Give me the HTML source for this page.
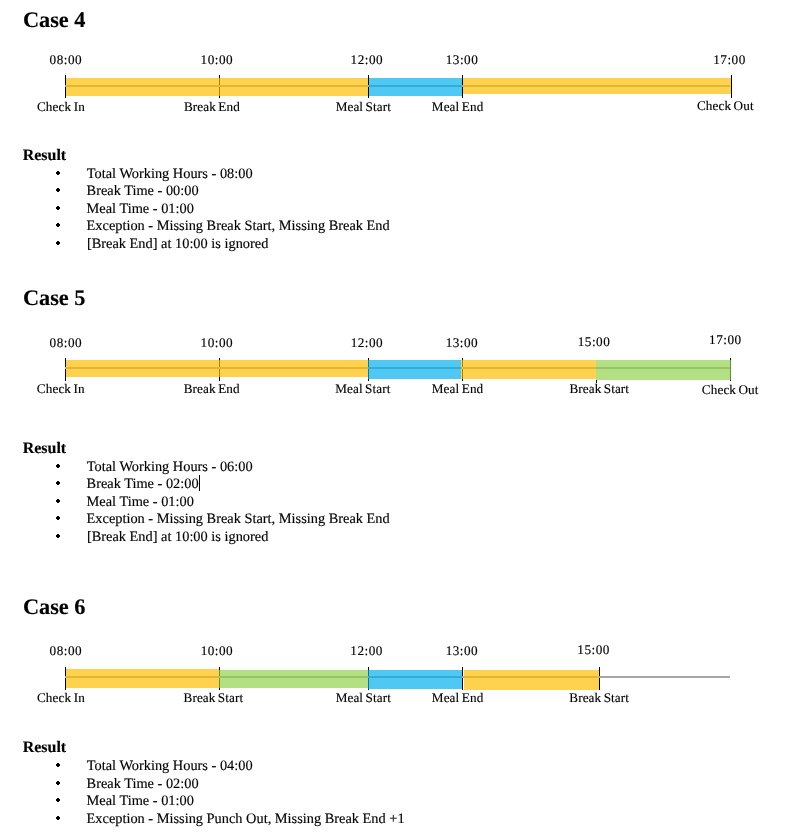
<!DOCTYPE html>
<html lang="en"><head><meta charset="utf-8"><title>Attendance Cases</title>
<style>
html,body{margin:0;padding:0;background:#fff;}
body{position:relative;width:790px;height:834px;overflow:hidden;color:#000;
  font-family:"Liberation Serif","Times New Roman",serif;text-rendering:geometricPrecision;}
h2,h3,ul,li{margin:0;padding:0;list-style:none;font-weight:normal;}
.t{position:absolute;white-space:nowrap;filter:grayscale(1);-webkit-text-stroke:0.15px #000;}
.h{font-size:22.3px;line-height:22.3px;font-weight:bold;}
.res{font-size:15.96px;line-height:15.96px;font-weight:bold;}
.item{font-size:14.37px;line-height:14.37px;}
.time{font-size:13.2px;line-height:13.2px;letter-spacing:0.5px;}
.evt{font-size:13.17px;line-height:13.17px;word-spacing:-1px;}
.axis,.tick,.seg,.dot{position:absolute;display:block;}
.tick{background:#000;z-index:1;}
.axis{background:#a6a6a6;z-index:2;}
.seg{z-index:3;}
.seg.work{background:rgba(254,190,0,0.69);}
.seg.meal{background:rgba(0,175,239,0.69);}
.seg.brk{background:rgba(146,210,77,0.69);}
.dot{width:4px;height:4px;
  background:linear-gradient(#000,#000) 1px 0/2px 4px no-repeat,linear-gradient(#000,#000) 0 1px/4px 2px no-repeat;}
.caret{position:absolute;display:block;background:#000;z-index:5;}
</style></head>
<body>
<section class="case">
  <h2 class="t h" style="left:22.89px;top:9px">Case 4</h2>
  <div class="timeline">
    <div class="axis" style="left:65px;top:85px;width:665px;height:2px"></div>
    <div class="tick" style="left:65px;top:75px;width:1px;height:23px"></div>
    <div class="tick" style="left:219px;top:75px;width:1px;height:23px"></div>
    <div class="tick" style="left:368px;top:75px;width:1px;height:23px"></div>
    <div class="tick" style="left:462px;top:75px;width:1px;height:23px"></div>
    <div class="tick" style="left:731px;top:75px;width:1px;height:23px"></div>
    <div class="seg work" style="left:66px;top:78px;width:153px;height:18px"></div>
    <div class="seg work" style="left:219px;top:78px;width:149px;height:18px"></div>
    <div class="seg meal" style="left:369px;top:78px;width:93px;height:18px"></div>
    <div class="seg work" style="left:463px;top:78px;width:268px;height:16px"></div>
    <span class="t time" style="left:49.57px;top:53px">08:00</span>
    <span class="t time" style="left:200.54px;top:53px">10:00</span>
    <span class="t time" style="left:350.54px;top:53px">12:00</span>
    <span class="t time" style="left:445.74px;top:53px">13:00</span>
    <span class="t time" style="left:713.24px;top:53px">17:00</span>
    <span class="t evt" style="left:36.88px;top:100px;letter-spacing:0.143px">Check In</span>
    <span class="t evt" style="left:183.91px;top:100px;letter-spacing:0.125px">Break End</span>
    <span class="t evt" style="left:335.63px;top:100px;letter-spacing:0.111px">Meal Start</span>
    <span class="t evt" style="left:431.8px;top:100px;letter-spacing:0.143px">Meal End</span>
    <span class="t evt" style="left:696.92px;top:99px;letter-spacing:0.125px">Check Out</span>
  </div>
  <h3 class="t res" style="left:22.72px;top:148px">Result</h3>
  <ul>
    <li><i class="dot" style="left:56px;top:171px"></i><span class="t item" style="left:86.75px;top:167px">Total Working Hours - 08:00</span></li>
    <li><i class="dot" style="left:56px;top:188px"></i><span class="t item" style="left:86.57px;top:184px">Break Time - 00:00</span></li>
    <li><i class="dot" style="left:56px;top:206px"></i><span class="t item" style="left:86.57px;top:202px">Meal Time - 01:00</span></li>
    <li><i class="dot" style="left:56px;top:223px"></i><span class="t item" style="left:86.57px;top:219px">Exception - Missing Break Start, Missing Break End</span></li>
    <li><i class="dot" style="left:56px;top:241px"></i><span class="t item" style="left:86.92px;top:237px">[Break End] at 10:00 is ignored</span></li>
  </ul>
</section>
<section class="case">
  <h2 class="t h" style="left:22.89px;top:287px">Case 5</h2>
  <div class="timeline">
    <div class="axis" style="left:65px;top:367px;width:665px;height:2px"></div>
    <div class="tick" style="left:65px;top:358px;width:1px;height:23px"></div>
    <div class="tick" style="left:219px;top:358px;width:1px;height:23px"></div>
    <div class="tick" style="left:368px;top:358px;width:1px;height:23px"></div>
    <div class="tick" style="left:462px;top:358px;width:1px;height:23px"></div>
    <div class="tick" style="left:596px;top:380px;width:1px;height:3px"></div>
    <div class="tick" style="left:730px;top:358px;width:1px;height:23px"></div>
    <div class="seg work" style="left:66px;top:360px;width:153px;height:17px"></div>
    <div class="seg work" style="left:219px;top:360px;width:149px;height:17px"></div>
    <div class="seg meal" style="left:368px;top:360px;width:93px;height:19px"></div>
    <div class="seg work" style="left:461px;top:360px;width:135px;height:19px"></div>
    <div class="seg brk" style="left:596px;top:360px;width:135px;height:20px"></div>
    <span class="t time" style="left:49.57px;top:336px">08:00</span>
    <span class="t time" style="left:200.54px;top:336px">10:00</span>
    <span class="t time" style="left:350.64px;top:336px">12:00</span>
    <span class="t time" style="left:445.64px;top:336px">13:00</span>
    <span class="t time" style="left:577.74px;top:335px">15:00</span>
    <span class="t time" style="left:709.04px;top:333px">17:00</span>
    <span class="t evt" style="left:36.78px;top:382px;letter-spacing:0.143px">Check In</span>
    <span class="t evt" style="left:183.71px;top:382px;letter-spacing:0.125px">Break End</span>
    <span class="t evt" style="left:335.23px;top:382px;letter-spacing:0.111px">Meal Start</span>
    <span class="t evt" style="left:431.7px;top:382px;letter-spacing:0.143px">Meal End</span>
    <span class="t evt" style="left:569.44px;top:382px;letter-spacing:0.100px">Break Start</span>
    <span class="t evt" style="left:701.82px;top:383px;letter-spacing:0.125px">Check Out</span>
  </div>
  <h3 class="t res" style="left:22.72px;top:441px">Result</h3>
  <ul>
    <li><i class="dot" style="left:56px;top:464px"></i><span class="t item" style="left:86.75px;top:460px">Total Working Hours - 06:00</span></li>
    <li><i class="dot" style="left:56px;top:481px"></i><span class="t item" style="left:86.57px;top:477px">Break Time - 02:00</span><i class="caret" style="left:199px;top:475px;width:1px;height:16px"></i></li>
    <li><i class="dot" style="left:56px;top:499px"></i><span class="t item" style="left:86.57px;top:495px">Meal Time - 01:00</span></li>
    <li><i class="dot" style="left:56px;top:516px"></i><span class="t item" style="left:86.57px;top:512px">Exception - Missing Break Start, Missing Break End</span></li>
    <li><i class="dot" style="left:56px;top:534px"></i><span class="t item" style="left:86.92px;top:530px">[Break End] at 10:00 is ignored</span></li>
  </ul>
</section>
<section class="case">
  <h2 class="t h" style="left:22.89px;top:596px">Case 6</h2>
  <div class="timeline">
    <div class="axis" style="left:65px;top:676px;width:665px;height:2px"></div>
    <div class="tick" style="left:65px;top:667px;width:1px;height:23px"></div>
    <div class="tick" style="left:219px;top:667px;width:1px;height:23px"></div>
    <div class="tick" style="left:368px;top:667px;width:1px;height:23px"></div>
    <div class="tick" style="left:462px;top:667px;width:1px;height:23px"></div>
    <div class="tick" style="left:599px;top:667px;width:1px;height:23px"></div>
    <div class="seg work" style="left:66px;top:669px;width:153px;height:19px"></div>
    <div class="seg brk" style="left:219px;top:670px;width:149px;height:18px"></div>
    <div class="seg meal" style="left:368px;top:670px;width:94px;height:19px"></div>
    <div class="seg work" style="left:464px;top:670px;width:135px;height:20px"></div>
    <span class="t time" style="left:49.57px;top:644px">08:00</span>
    <span class="t time" style="left:200.64px;top:644px">10:00</span>
    <span class="t time" style="left:350.34px;top:644px">12:00</span>
    <span class="t time" style="left:445.64px;top:644px">13:00</span>
    <span class="t time" style="left:577.34px;top:643px">15:00</span>
    <span class="t evt" style="left:36.88px;top:691px;letter-spacing:0.143px">Check In</span>
    <span class="t evt" style="left:183.54px;top:691px;letter-spacing:0.100px">Break Start</span>
    <span class="t evt" style="left:335.63px;top:691px;letter-spacing:0.111px">Meal Start</span>
    <span class="t evt" style="left:431.8px;top:691px;letter-spacing:0.143px">Meal End</span>
    <span class="t evt" style="left:569.34px;top:691px;letter-spacing:0.100px">Break Start</span>
  </div>
  <h3 class="t res" style="left:22.72px;top:740px">Result</h3>
  <ul>
    <li><i class="dot" style="left:56px;top:763px"></i><span class="t item" style="left:86.75px;top:759px">Total Working Hours - 04:00</span></li>
    <li><i class="dot" style="left:56px;top:781px"></i><span class="t item" style="left:86.57px;top:777px">Break Time - 02:00</span></li>
    <li><i class="dot" style="left:56px;top:798px"></i><span class="t item" style="left:86.57px;top:794px">Meal Time - 01:00</span></li>
    <li><i class="dot" style="left:56px;top:816px"></i><span class="t item" style="left:86.57px;top:812px">Exception - Missing Punch Out, Missing Break End +1</span></li>
  </ul>
</section>
</body></html>
